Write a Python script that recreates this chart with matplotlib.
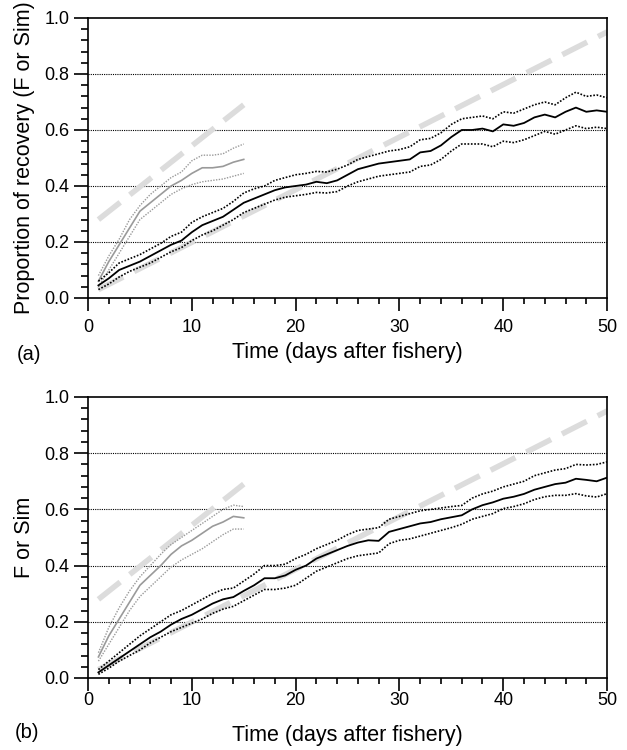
import numpy as np
import matplotlib.pyplot as plt
from matplotlib.ticker import MultipleLocator

plt.rcParams['font.family'] = ['Liberation Sans', 'DejaVu Sans']

# ---- data ----
days_long = np.arange(1, 51)
days_short = np.arange(1, 16)

# panel (a): fishery (black) and simulation (grey)
a_mean = [0.045, 0.07, 0.10, 0.115, 0.13, 0.15, 0.17, 0.19, 0.205, 0.235,
          0.26, 0.275, 0.29, 0.315, 0.34, 0.355, 0.37, 0.385, 0.395, 0.40,
          0.405, 0.415, 0.41, 0.42, 0.44, 0.46, 0.47, 0.48, 0.485, 0.49,
          0.495, 0.52, 0.525, 0.545, 0.575, 0.60, 0.60, 0.605, 0.595, 0.62,
          0.615, 0.625, 0.645, 0.655, 0.645, 0.665, 0.68, 0.665, 0.67, 0.665]
a_upper = [0.06, 0.09, 0.125, 0.14, 0.155, 0.175, 0.195, 0.22, 0.235, 0.27,
           0.29, 0.305, 0.32, 0.345, 0.375, 0.39, 0.40, 0.42, 0.43, 0.44,
           0.445, 0.452, 0.45, 0.46, 0.475, 0.495, 0.505, 0.515, 0.525, 0.53,
           0.54, 0.565, 0.57, 0.59, 0.62, 0.64, 0.645, 0.65, 0.64, 0.665,
           0.66, 0.675, 0.69, 0.70, 0.69, 0.715, 0.735, 0.72, 0.725, 0.715]
a_lower = [0.03, 0.05, 0.075, 0.095, 0.11, 0.125, 0.145, 0.165, 0.18, 0.205,
           0.225, 0.24, 0.26, 0.28, 0.305, 0.32, 0.335, 0.35, 0.36, 0.365,
           0.37, 0.377, 0.375, 0.38, 0.40, 0.415, 0.425, 0.435, 0.44, 0.445,
           0.45, 0.47, 0.475, 0.495, 0.525, 0.55, 0.55, 0.55, 0.54, 0.56,
           0.555, 0.565, 0.58, 0.595, 0.585, 0.60, 0.615, 0.605, 0.61, 0.605]
a_sim_mean = [0.06, 0.13, 0.19, 0.25, 0.31, 0.34, 0.37, 0.40, 0.42, 0.445,
              0.465, 0.465, 0.47, 0.485, 0.495]
a_sim_upper = [0.08, 0.15, 0.21, 0.28, 0.33, 0.37, 0.40, 0.43, 0.45, 0.49,
               0.51, 0.51, 0.515, 0.535, 0.55]
a_sim_lower = [0.04, 0.10, 0.16, 0.22, 0.28, 0.31, 0.34, 0.37, 0.39, 0.405,
               0.415, 0.42, 0.425, 0.435, 0.445]

# panel (b)
b_mean = [0.02, 0.045, 0.07, 0.095, 0.12, 0.145, 0.165, 0.19, 0.21, 0.225,
          0.245, 0.265, 0.28, 0.288, 0.31, 0.33, 0.355, 0.355, 0.365, 0.385,
          0.40, 0.425, 0.44, 0.455, 0.47, 0.482, 0.49, 0.488, 0.52, 0.53,
          0.54, 0.55, 0.555, 0.565, 0.572, 0.579, 0.60, 0.615, 0.625, 0.638,
          0.645, 0.655, 0.67, 0.68, 0.69, 0.695, 0.709, 0.705, 0.70, 0.713]
b_upper = [0.03, 0.06, 0.09, 0.12, 0.15, 0.175, 0.2, 0.225, 0.24, 0.26,
           0.28, 0.30, 0.315, 0.32, 0.345, 0.37, 0.40, 0.40, 0.405, 0.425,
           0.44, 0.46, 0.475, 0.49, 0.51, 0.525, 0.53, 0.535, 0.565, 0.575,
           0.585, 0.595, 0.60, 0.605, 0.61, 0.614, 0.64, 0.655, 0.665, 0.68,
           0.69, 0.70, 0.72, 0.73, 0.74, 0.745, 0.76, 0.758, 0.76, 0.769]
b_lower = [0.013, 0.035, 0.06, 0.08, 0.10, 0.125, 0.145, 0.165, 0.18, 0.195,
           0.21, 0.23, 0.245, 0.255, 0.275, 0.295, 0.315, 0.315, 0.32, 0.33,
           0.355, 0.38, 0.395, 0.41, 0.425, 0.435, 0.44, 0.445, 0.478, 0.49,
           0.495, 0.505, 0.515, 0.525, 0.535, 0.547, 0.565, 0.575, 0.585, 0.603,
           0.61, 0.62, 0.635, 0.645, 0.65, 0.65, 0.656, 0.648, 0.644, 0.656]
b_sim_mean = [0.075, 0.15, 0.21, 0.27, 0.33, 0.365, 0.40, 0.44, 0.47, 0.49,
              0.515, 0.54, 0.555, 0.575, 0.57]
b_sim_upper = [0.09, 0.18, 0.25, 0.31, 0.36, 0.40, 0.44, 0.475, 0.50, 0.525,
               0.55, 0.575, 0.60, 0.615, 0.61]
b_sim_lower = [0.06, 0.12, 0.18, 0.24, 0.29, 0.325, 0.36, 0.395, 0.42, 0.44,
               0.46, 0.485, 0.51, 0.53, 0.53]

# grey reference lines (start/end points)
ref_long_x = [1, 50]
ref_long_y = [0.03, 0.95]
ref_short_x = [1, 15]
ref_short_y = [0.28, 0.69]


def draw_panel(ax, mean, upper, lower, s_mean, s_upper, s_lower, ylabel,
               tickpad, xlabel_y):
    ax.plot(ref_long_x, ref_long_y, color='#dcdcdc', lw=4, dashes=(5, 2.2),
            solid_capstyle='butt', zorder=1)
    ax.plot(ref_short_x, ref_short_y, color='#dcdcdc', lw=4, dashes=(5, 2.2),
            solid_capstyle='butt', zorder=1)
    for yv in [0.2, 0.4, 0.6, 0.8]:
        ax.axhline(yv, color='black', lw=0.8, ls=(0, (1, 1)), zorder=0)
    ax.plot(days_short, s_mean, color='#9a9a9a', lw=1.2, zorder=2)
    ax.plot(days_short, s_upper, color='#9a9a9a', lw=1.0, ls=(0, (1, 1)), zorder=2)
    ax.plot(days_short, s_lower, color='#9a9a9a', lw=1.0, ls=(0, (1, 1)), zorder=2)
    ax.plot(days_long, mean, color='black', lw=1.3, zorder=3)
    ax.plot(days_long, upper, color='black', lw=1.2, ls=(0, (1, 1)), zorder=3)
    ax.plot(days_long, lower, color='black', lw=1.2, ls=(0, (1, 1)), zorder=3)

    ax.set_xlim(0, 50)
    ax.set_ylim(0, 1.0)
    ax.xaxis.set_major_locator(MultipleLocator(10))
    ax.xaxis.set_minor_locator(MultipleLocator(2))
    ax.yaxis.set_major_locator(MultipleLocator(0.2))
    ax.yaxis.set_minor_locator(MultipleLocator(0.04))
    ax.yaxis.set_major_formatter(plt.FormatStrFormatter('%.1f'))
    ax.tick_params(axis='x', which='major', direction='out', length=9, width=1.2,
                   labelsize=13, pad=tickpad)
    ax.tick_params(axis='x', which='minor', direction='out', length=4.5, width=1.2)
    ax.tick_params(axis='y', which='major', direction='out', length=10, width=1.2,
                   labelsize=13)
    ax.tick_params(axis='y', which='minor', direction='out', length=5, width=1.2)
    for sp in ax.spines.values():
        sp.set_linewidth(1.2)
    ax.set_ylabel(ylabel, fontsize=15.5, va='center')
    ax.yaxis.set_label_coords(-0.123, 0.5)
    ax.set_xlabel('Time (days after fishery)', fontsize=15.5, va='center')
    ax.xaxis.set_label_coords(0.5, xlabel_y)


fig = plt.figure(figsize=(6.27, 7.5), dpi=100)
ax_a = fig.add_axes([0.1404, 0.6027, 0.8278, 0.3733])
ax_b = fig.add_axes([0.1404, 0.096, 0.8278, 0.3747])

draw_panel(ax_a, a_mean, a_upper, a_lower, a_sim_mean, a_sim_upper, a_sim_lower,
           'Proportion of recovery (F or Sim)', 6, -0.196)
draw_panel(ax_b, b_mean, b_upper, b_lower, b_sim_mean, b_sim_upper, b_sim_lower,
           'F or Sim', 1, -0.206)

fig.text(0.026, 1 - 354 / 750, '(a)', fontsize=14.5, va='center')
fig.text(0.024, 1 - 733 / 750, '(b)', fontsize=14.5, va='center')

fig.savefig('out.png', dpi=100)
